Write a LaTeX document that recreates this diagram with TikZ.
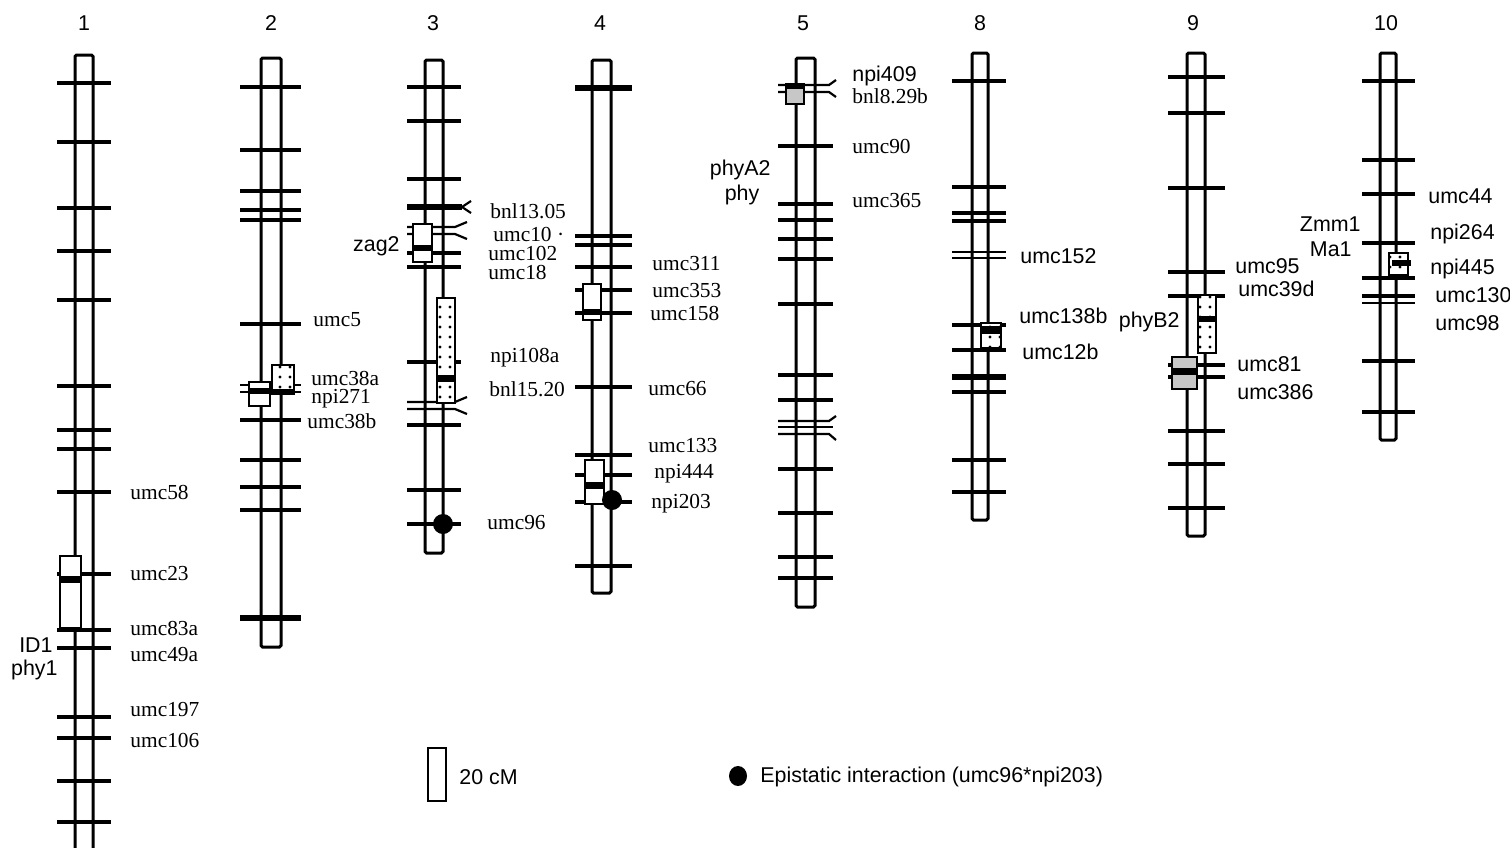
\documentclass[tikz,border=0pt]{standalone}
\usepackage{fontspec}
\setmainfont{Liberation Serif}
\setsansfont{Liberation Sans}
\usetikzlibrary{patterns.meta}
\begin{document}
\begin{tikzpicture}[x=0.5pt,y=-0.5pt,
  chrom/.style={line width=1.5pt,rounded corners=0.8pt},
  locus/.style={line width=1.6pt},
  fine/.style={line width=1.1pt},
  heavy/.style={line width=2.8pt},
  qtl/.style={line width=1.1pt,fill=white},
  spot/.style={line width=1.1pt,preaction={fill=white},pattern={Dots[distance=5pt,radius=0.85pt]}},
  grain/.style={line width=1.1pt,fill=black!22},
  lab/.style={font=\fontsize{10.7}{12}\selectfont,anchor=west,inner sep=0pt},
  slab/.style={lab,font=\sffamily\fontsize{10.7}{12}\selectfont}]
\clip (0,0) rectangle (1510,847);
\foreach \n/\x in {1/84,2/271,3/433,4/600,5/803,8/980,9/1193,10/1386}
  \node[slab,anchor=center] (c\n) at (\x,23) {\n};
% chromosome 1
\draw[chrom] (75,55) rectangle (93,870);
\foreach \y in {83,142,208,251,300,386,430,449,492,574,630,648,717,738,781,822}
  \draw[locus] (57,\y)--(111,\y);
\draw[qtl] (60,556) rectangle (81,628);
\fill (60,576) rectangle (81,583);
% chromosome 2
\draw[chrom] (261,58) rectangle (281,647);
\foreach \y in {87,150,191,210,220,324,420,460,487,510}
  \draw[locus] (240,\y)--(301,\y);
\foreach \y in {385,392}
  \draw[fine] (240,\y)--(301,\y);
\draw[heavy] (240,618)--(301,618);
\draw[qtl] (249,382) rectangle (270,406);
\fill (249,388) rectangle (270,394);
\draw[spot] (272,365) rectangle (294,394);
\fill (272,389) rectangle (294,394);
% chromosome 3
\draw[chrom] (425,60) rectangle (443,553);
\foreach \y in {87,121,179,253,267,362,425,490,524}
  \draw[locus] (407,\y)--(461,\y);
\draw[heavy] (407,207)--(462,207);
\draw[fine] (471,201)--(462,207)--(471,213);
\draw[fine] (407,227)--(455,227)--(467,222);
\draw[fine] (407,234)--(455,234)--(467,239);
\draw[fine] (407,402)--(455,402)--(467,397);
\draw[fine] (407,409)--(455,409)--(467,414);
\draw[qtl] (413,224) rectangle (432,262);
\fill (413,245) rectangle (432,251);
\draw[spot] (437,298) rectangle (455,403);
\fill (437,375) rectangle (455,382);
\fill (443,524) circle (10);
% chromosome 4
\draw[chrom] (592,60) rectangle (611,593);
\foreach \y in {236,245,267,290,313,387,455,475,502,566}
  \draw[locus] (575,\y)--(632,\y);
\draw[heavy] (575,88)--(632,88);
\draw[qtl] (583,284) rectangle (601,320);
\fill (583,309) rectangle (601,315);
\draw[qtl] (585,460) rectangle (604,504);
\fill (585,482) rectangle (604,489);
\fill (612,500) circle (10);
% chromosome 5
\draw[chrom] (796,58) rectangle (815,607);
\foreach \y in {146,204,220,239,259,304,375,400,469,513,557,578}
  \draw[locus] (778,\y)--(833,\y);
\draw[fine] (778,85)--(829,85)--(836,80);
\draw[fine] (778,92)--(829,92)--(836,97);
\draw[fine] (778,421)--(829,421)--(836,416);
\draw[fine] (778,427)--(833,427);
\draw[fine] (778,434)--(829,434)--(836,440);
\draw[grain] (786,84) rectangle (804,104);
\fill (786,84) rectangle (804,89);
% chromosome 8
\draw[chrom] (972,53) rectangle (988,520);
\foreach \y in {81,187,213,221,325,350,392,460,492}
  \draw[locus] (952,\y)--(1006,\y);
\foreach \y in {252,258}
  \draw[fine] (952,\y)--(1006,\y);
\draw[heavy] (952,377)--(1006,377);
\draw[spot] (981,323) rectangle (1001,348);
\fill (981,326) rectangle (1001,334);
% chromosome 9
\draw[chrom] (1187,53) rectangle (1205,536);
\foreach \y in {77,113,188,272,296,365,377,431,464,508}
  \draw[locus] (1168,\y)--(1225,\y);
\draw[spot] (1198,295) rectangle (1216,353);
\fill (1198,316) rectangle (1216,322);
\draw[grain] (1172,357) rectangle (1197,389);
\fill (1172,368) rectangle (1197,375);
% chromosome 10
\draw[chrom] (1380,53) rectangle (1396,440);
\foreach \y in {81,160,194,243,278,361,412}
  \draw[locus] (1362,\y)--(1415,\y);
\draw[line width=2pt] (1362,296)--(1415,296);
\draw[fine] (1362,303)--(1415,303);
\draw[spot] (1389,253) rectangle (1408,275);
\fill (1392,260) rectangle (1411,266);
% marker names
\node[lab] (umc58) at (130,492) {umc58};
\node[lab] (umc23) at (130,574) {umc23};
\node[lab] (umc83a) at (130,628) {umc83a};
\node[lab] (umc49a) at (130,655) {umc49a};
\node[lab] (umc197) at (130,710) {umc197};
\node[lab] (umc106) at (130,740) {umc106};
\node[slab,anchor=east] (id1) at (53,645) {ID1};
\node[slab,anchor=east] (phy1) at (58,670) {phy1};
\node[lab] (umc5) at (313,320) {umc5};
\node[lab] (umc38a) at (311,378) {umc38a};
\node[lab] (npi271) at (311,399) {npi271};
\node[lab] (umc38b) at (307,421) {umc38b};
\node[lab] (bnl1305) at (490,211) {bnl13.05};
\node[lab] (umc10) at (493,234) {umc10 ·};
\node[lab] (umc102) at (488,253) {umc102};
\node[lab] (umc18) at (488,272) {umc18};
\node[lab] (npi108a) at (490,358) {npi108a};
\node[lab] (bnl1520) at (489,389) {bnl15.20};
\node[lab] (umc96) at (487,523) {umc96};
\node[slab,anchor=east] (zag2) at (400,246) {zag2};
\node[lab] (umc311) at (652,264) {umc311};
\node[lab] (umc353) at (652,291) {umc353};
\node[lab] (umc158) at (650,313) {umc158};
\node[lab] (umc66) at (648,389) {umc66};
\node[lab] (umc133) at (648,446) {umc133};
\node[lab] (npi444) at (654,474) {npi444};
\node[lab] (npi203) at (651,504) {npi203};
\node[slab] (npi409) at (852,76) {npi409};
\node[lab] (bnl829b) at (852,96) {bnl8.29b};
\node[lab] (umc90) at (852,146) {umc90};
\node[lab] (umc365) at (852,201) {umc365};
\node[slab,anchor=east] (phyA2) at (771,170) {phyA2};
\node[slab,anchor=center] (phy) at (742,195) {phy};
\node[slab] (umc152) at (1020,256) {umc152};
\node[slab] (umc138b) at (1019,316) {umc138b};
\node[slab] (umc12b) at (1022,352) {umc12b};
\node[slab] (umc95) at (1235,266) {umc95};
\node[slab] (umc39d) at (1238,289) {umc39d};
\node[slab] (umc81) at (1237,364) {umc81};
\node[slab] (umc386) at (1237,392) {umc386};
\node[slab,anchor=east] (phyB2) at (1180,322) {phyB2};
\node[slab] (umc44) at (1428,196) {umc44};
\node[slab] (npi264) at (1430,234) {npi264};
\node[slab] (npi445) at (1430,269) {npi445};
\node[slab] (umc130) at (1435,295) {umc130};
\node[slab] (umc98) at (1435,323) {umc98};
\node[slab,anchor=east] (zmm1) at (1361,224) {Zmm1};
\node[slab,anchor=east] (ma1) at (1352,249) {Ma1};
% legend
\draw[line width=1.1pt] (428,748) rectangle (446,801);
\node[slab] (scale) at (459,777) {20 cM};
\fill (738,776) ellipse (9 and 10);
\node[slab] (epi) at (760,777) {Epistatic interaction (umc96*npi203)};
\end{tikzpicture}
\end{document}
